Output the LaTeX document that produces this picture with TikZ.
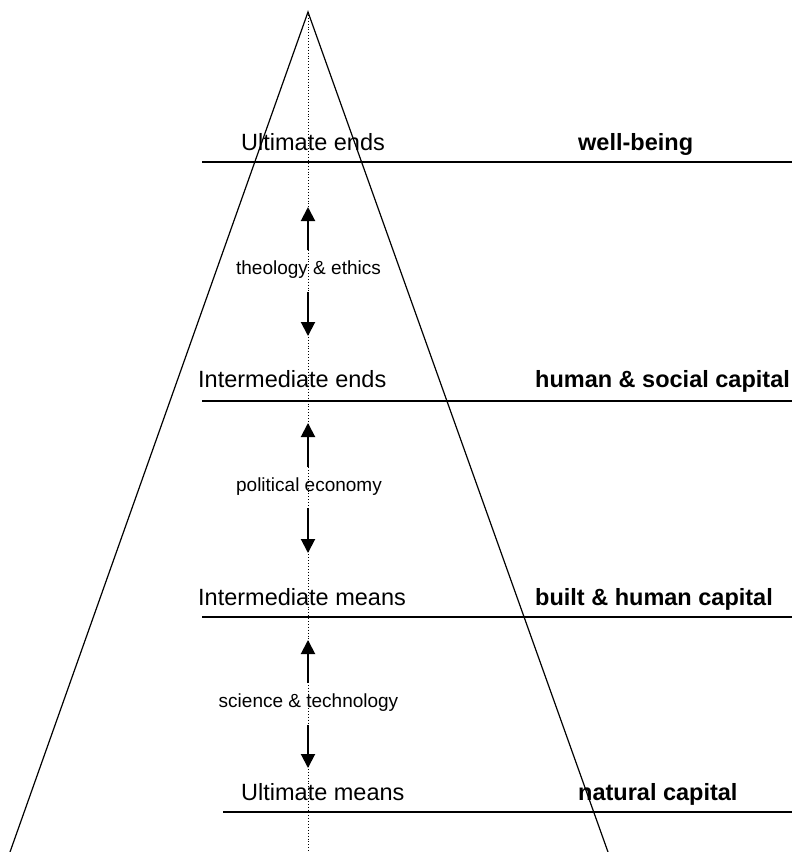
\documentclass[tikz,border=0pt]{standalone}
\usepackage{fontspec}
\setmainfont{Liberation Sans}
\usetikzlibrary{arrows.meta}

\begin{document}
\begin{tikzpicture}[x=1pt,y=-1pt,
    level/.style={anchor=base west,inner sep=0pt,font=\fontsize{23.5}{28}\selectfont},
    asset/.style={level,font=\fontsize{23.5}{28}\selectfont\bfseries},
    field/.style={inner sep=0pt,font=\fontsize{19}{23}\selectfont},
    rule/.style={line width=1.5pt},
    push/.style={line width=2pt,-{Triangle[length=14pt,width=14pt]}}]

  \useasboundingbox (0,0) rectangle (792,852);

  \coordinate (apex) at (308,12);
  \coordinate (baseL) at (10,852);
  \coordinate (baseR) at (608,852);
  \coordinate (axis) at (308,852);

  \draw[line width=1.2pt] (baseL) -- (apex) -- (baseR);
  \draw[dotted,line width=0.9pt] (apex) -- (axis);

  \node[level] (ue) at (241,150) {Ultimate ends};
  \node[asset] (wb) at (578,150) {well-being};
  \draw[rule] (202,162) -- (792,162);

  \node[level] (ie) at (198,387) {Intermediate ends};
  \node[asset] (hs) at (535,387) {human \& social capital};
  \draw[rule] (202,401) -- (792,401);

  \node[level] (im) at (198,605) {Intermediate means};
  \node[asset] (bh) at (535,605) {built \& human capital};
  \draw[rule] (202,617) -- (792,617);

  \node[level] (um) at (241,800) {Ultimate means};
  \node[asset] (nc) at (578,800) {natural capital};
  \draw[rule] (223,812) -- (792,812);

  \node[field] (te) at (308.5,270) {theology \& ethics};
  \node[field] (pe) at (309,487) {political economy};
  \node[field] (st) at (308.5,703) {science \& technology};

  \draw[push] (308,250) coordinate (te1) -- (308,207) coordinate (te2);
  \draw[push] (308,292) coordinate (te3) -- (308,336) coordinate (te4);
  \draw[push] (308,467) coordinate (pe1) -- (308,423) coordinate (pe2);
  \draw[push] (308,508) coordinate (pe3) -- (308,553) coordinate (pe4);
  \draw[push] (308,683) coordinate (st1) -- (308,640) coordinate (st2);
  \draw[push] (308,725) coordinate (st3) -- (308,768) coordinate (st4);

\end{tikzpicture}
\end{document}
